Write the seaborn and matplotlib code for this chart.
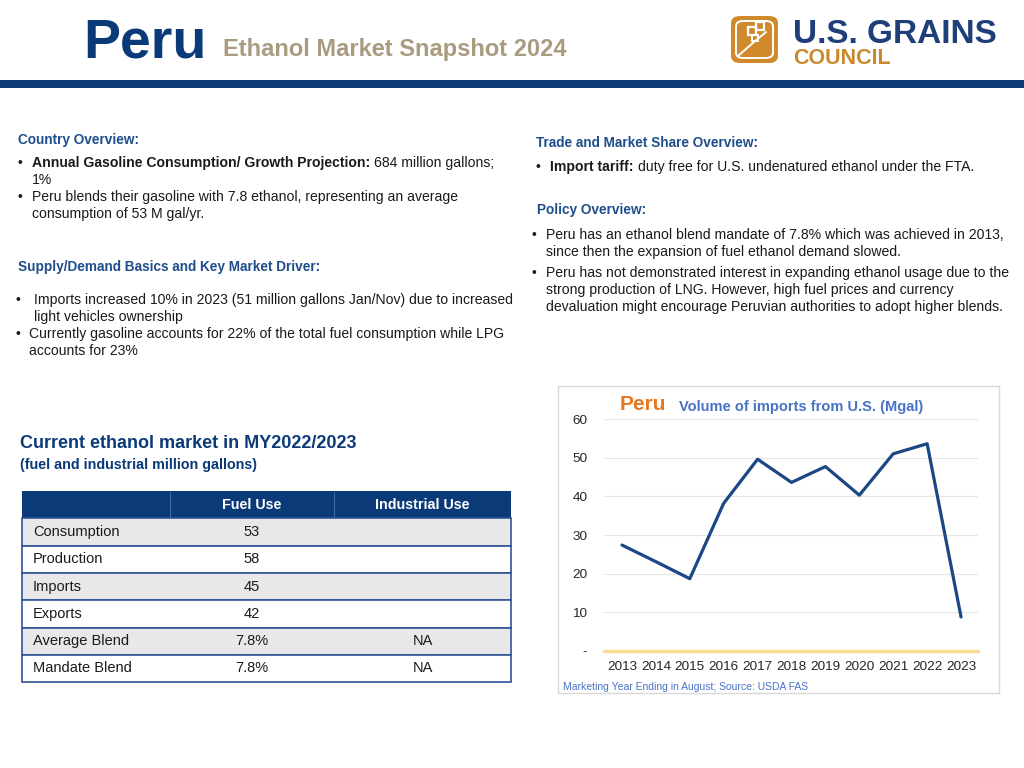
import pandas as pd
import matplotlib.pyplot as plt
from matplotlib.patches import Rectangle, FancyBboxPatch
import seaborn as sns

# chart data: volume of imports from U.S. (Mgal)
years = [2013, 2014, 2015, 2016, 2017, 2018, 2019, 2020, 2021, 2022, 2023]
imports_us = [27.4, 23.1, 18.7, 38.2, 49.6, 43.6, 47.7, 40.3, 51.0, 53.6, 8.8]

# table data: current ethanol market MY2022/2023
row_labels = ['Consumption', 'Production', 'Imports', 'Exports', 'Average Blend', 'Mandate Blend']
fuel_use = ['53', '58', '45', '42', '7.8%', '7.8%']
industrial_use = ['', '', '', '', 'NA', 'NA']
table_cols = ['Fuel Use', 'Industrial Use']

sns.set_style('white')
plt.rcParams['font.family'] = ['Liberation Sans', 'DejaVu Sans']

W, H = 1024, 768
fig = plt.figure(figsize=(10.24, 7.68), dpi=100)

NAVY = '#0b3a78'
HEAD = '#1f4e8c'
TXT = '#1a1a1a'


def fx(x):
    return x / W


def fy(y):
    return 1 - y / H


def txt(x, y, s, **kw):
    kw.setdefault('va', 'center')
    kw.setdefault('color', TXT)
    kw.setdefault('fontsize', 10.1)
    return fig.text(fx(x), fy(y), s, **kw)


def rect(x0, y0, x1, y1, **kw):
    r = Rectangle((fx(x0), fy(y1)), fx(x1) - fx(x0), fy(y0) - fy(y1),
                  transform=fig.transFigure, **kw)
    fig.add_artist(r)
    return r


def line(xs, ys, **kw):
    fig.add_artist(plt.Line2D([fx(x) for x in xs], [fy(y) for y in ys],
                              transform=fig.transFigure, **kw))


renderer = fig.canvas.get_renderer()


def bold_then_normal(x, y, bold, normal):
    t = txt(x, y, bold, fontweight='bold')
    bb = t.get_window_extent(renderer)
    txt(bb.x1 + 4, y, normal)


# ---- header ----
txt(83, 57, 'Peru', va='baseline', fontweight='bold', fontsize=40, color=NAVY)
txt(223, 56, 'Ethanol Market Snapshot 2024', va='baseline', fontweight='bold',
    fontsize=17, color='#a99b7f')

# logo
ORANGE = '#d08a2c'
logo = FancyBboxPatch((fx(731), fy(63)), fx(47), fy(16) - fy(63),
                      boxstyle='round,pad=0,rounding_size=0.009',
                      transform=fig.transFigure, facecolor=ORANGE, edgecolor='none')
fig.add_artist(logo)
inner = FancyBboxPatch((fx(736), fy(58)), fx(37), fy(21) - fy(58),
                       boxstyle='round,pad=0,rounding_size=0.007',
                       transform=fig.transFigure, facecolor='none',
                       edgecolor='white', linewidth=1.4)
fig.add_artist(inner)
line([738, 754, 766], [56, 42, 32], color='white', lw=1.4)
rect(748, 27, 756, 35, facecolor='none', edgecolor='white', lw=1.6)
rect(756, 22, 764, 30, facecolor='none', edgecolor='white', lw=1.6)
rect(752, 35, 758, 41, facecolor='none', edgecolor='white', lw=1.4)
txt(793, 43, 'U.S. GRAINS', va='baseline', fontweight='bold', fontsize=24, color='#1f3f7a')
txt(793, 64, 'COUNCIL', va='baseline', fontweight='bold', fontsize=15.5, color='#c98a2e')

rect(0, 80, W, 88, facecolor=NAVY, edgecolor='none')

# ---- left text ----
txt(18, 140, 'Country Overview:', fontweight='bold', fontsize=9.8, color=HEAD)
txt(18, 163, '•')
bold_then_normal(32, 163, 'Annual Gasoline Consumption/ Growth Projection:', '684 million gallons;')
txt(32, 180, '1%')
txt(18, 197, '•')
txt(32, 197, 'Peru blends their gasoline with 7.8 ethanol, representing an average')
txt(32, 214, 'consumption of 53 M gal/yr.')

txt(18, 267, 'Supply/Demand Basics and Key Market Driver:', fontweight='bold',
    fontsize=9.8, color=HEAD)
txt(16, 300, '•')
txt(34, 300, 'Imports increased 10% in 2023 (51 million gallons Jan/Nov) due to increased')
txt(34, 317, 'light vehicles ownership')
txt(16, 334, '•')
txt(29, 334, 'Currently gasoline accounts for 22% of the total fuel consumption while LPG')
txt(29, 351, 'accounts for 23%')

# ---- right text ----
txt(536, 143, 'Trade and Market Share Overview:', fontweight='bold', fontsize=9.8, color=HEAD)
txt(536, 167, '•')
bold_then_normal(550, 167, 'Import tariff:', 'duty free for U.S. undenatured ethanol under the FTA.')
txt(537, 210, 'Policy Overview:', fontweight='bold', fontsize=9.8, color=HEAD)
txt(532, 235, '•')
txt(546, 235, 'Peru has an ethanol blend mandate of 7.8% which was achieved in 2013,')
txt(546, 252, 'since then the expansion of fuel ethanol demand slowed.')
txt(532, 273, '•')
txt(546, 273, 'Peru has not demonstrated interest in expanding ethanol usage due to the')
txt(546, 290, 'strong production of LNG. However, high fuel prices and currency')
txt(546, 307, 'devaluation might encourage Peruvian authorities to adopt higher blends.')

# ---- table ----
txt(20, 444, 'Current ethanol market in MY2022/2023', fontweight='heavy',
    fontsize=13, color=NAVY)
txt(20, 465, '(fuel and industrial million gallons)', fontweight='heavy',
    fontsize=10.3, color=NAVY)

col_x = [22, 170, 334, 511]
top, row_h = 491, 27.3
rect(col_x[0], top, col_x[3], top + row_h, facecolor=NAVY, edgecolor='none')
for cx in col_x[1:3]:
    line([cx, cx], [top + 1, top + row_h], color='#3d6aa8', lw=0.8)
for j, c in enumerate(table_cols):
    txt((col_x[j + 1] + col_x[j + 2]) / 2, top + row_h / 2, c, color='white',
        fontsize=10.3, fontweight='bold', ha='center')
for i, lab in enumerate(row_labels):
    y0 = top + row_h * (i + 1)
    rect(col_x[0], y0, col_x[3], y0 + row_h,
         facecolor='#e8e8ea' if i % 2 == 0 else 'white', edgecolor='#2f5597', lw=1.2)
    yc = y0 + row_h / 2
    txt(33, yc, lab, fontsize=10.5)
    txt((col_x[1] + col_x[2]) / 2, yc, fuel_use[i], fontsize=10.5, ha='center')
    txt((col_x[2] + col_x[3]) / 2, yc, industrial_use[i], fontsize=10.5, ha='center')

# ---- line chart ----
rect(558, 386, 999, 693, facecolor='white', edgecolor='#d9d9d9', lw=1, zorder=-1)
ax = fig.add_axes([fx(604), fy(651), fx(978) - fx(604), fy(419) - fy(651)])
df = pd.DataFrame({'year': years, 'imports': imports_us})
sns.lineplot(data=df, x='year', y='imports', ax=ax, color='#1b4784', lw=2.3, zorder=3)
ax.set_xlim(2012.47, 2023.5)
ax.set_ylim(0, 60)
ax.set_yticks(range(0, 61, 10))
ax.set_yticklabels(['-'] + [str(v) for v in range(10, 61, 10)])
ax.set_xticks(years)
ax.set_xticklabels([str(y) for y in years])
ax.grid(axis='y', color='#e6e6e6', lw=0.8)
ax.axhline(0, color='#f8dc93', lw=2.5, zorder=2, clip_on=False)
sns.despine(ax=ax, left=True, bottom=True)
ax.tick_params(axis='both', length=0, labelsize=9.7, colors='#262626')
ax.tick_params(axis='y', pad=12)
ax.tick_params(axis='x', pad=7)
ax.set_xlabel('')
ax.set_ylabel('')
ax.patch.set_alpha(0)

txt(620, 404, 'Peru', fontweight='bold', fontsize=15, color='#e87722')
txt(679, 407, 'Volume of imports from U.S. (Mgal)', fontweight='bold', fontsize=10.5,
    color='#4a72c4')
txt(563, 687, 'Marketing Year Ending in August; Source: USDA FAS', fontsize=7.5,
    color='#4a72c4')

fig.savefig('out.png', dpi=100)
